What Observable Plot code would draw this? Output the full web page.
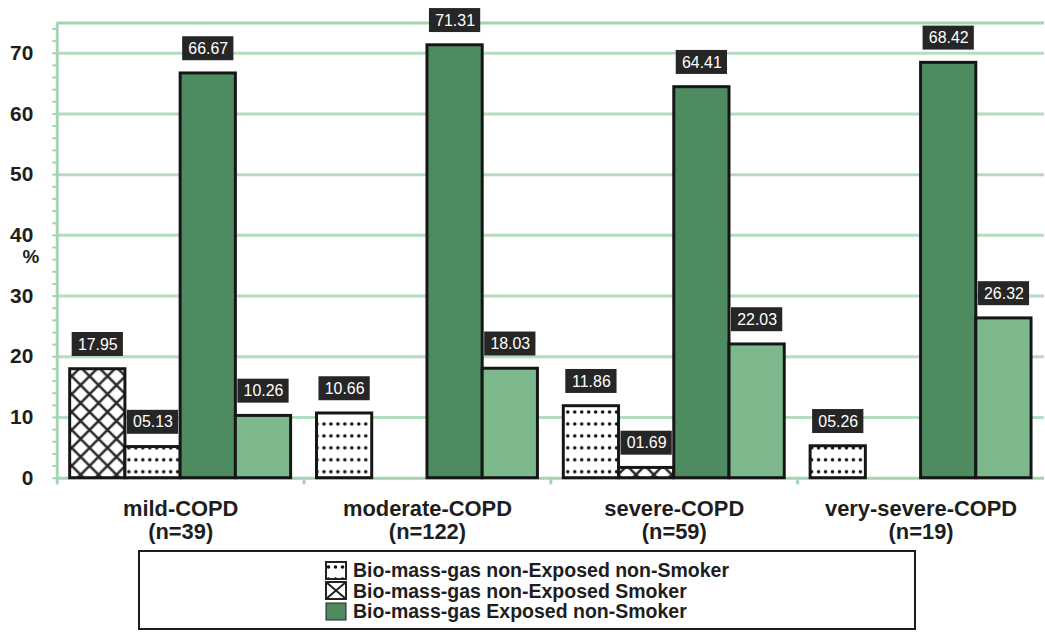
<!DOCTYPE html>
<html><head><meta charset="utf-8">
<script src="https://cdn.jsdelivr.net/npm/d3@7"></script>
<script src="https://cdn.jsdelivr.net/npm/@observablehq/plot@0.6"></script>
<style>
html,body{margin:0;padding:0;background:#fff;overflow:hidden;width:1045px;height:633px;}
#chart{position:absolute;left:0;top:0;}
#legend{position:absolute;left:138px;top:550px;width:778px;height:80px;border:2px solid #1e1e1e;box-sizing:border-box;font:bold 19.5px "Liberation Sans",Arial,sans-serif;color:#1e1e1e;}
.item{position:absolute;left:185px;height:20px;line-height:20px;display:flex;align-items:center;white-space:nowrap}
.item svg{margin-right:6px}
</style></head><body>
<div id="chart"></div><div id="legend"></div>
<script>
// ---- data ----
const categories = ["mild-COPD", "moderate-COPD", "severe-COPD", "very-severe-COPD"];
const sampleSizes = [39, 122, 59, 19];
const seriesNames = [
  "Bio-mass-gas non-Exposed non-Smoker",
  "Bio-mass-gas non-Exposed Smoker",
  "Bio-mass-gas Exposed non-Smoker",
  "Bio-mass-gas Exposed Smoker"
];
const nonExposedNonSmoker = [5.13, 10.66, 11.86, 5.26];
const nonExposedSmoker   = [17.95, 0, 1.69, 0];
const exposedNonSmoker   = [66.67, 71.31, 64.41, 68.42];
const exposedSmoker      = [10.26, 18.03, 22.03, 26.32];
// order of series within each group as printed in the source figure
const barOrder = [[1, 0, 2, 3], [0, 1, 2, 3], [0, 1, 2, 3], [0, 1, 2, 3]];
const yTicks = [0, 10, 20, 30, 40, 50, 60, 70];
const yMinorTicks = d3.range(0, 75, 2);

// ---- build table ----
const seriesValues = [nonExposedNonSmoker, nonExposedSmoker, exposedNonSmoker, exposedSmoker];
const rows = [];
categories.forEach((c, g) => barOrder[g].forEach((s, slot) => {
  const v = seriesValues[s][g];
  if (v > 0) rows.push({group: g, slot, series: s, value: v});
}));

const fills = ["url(#dots)", "url(#cross)", "#4f8b61", "#7db98c"];
const PAD = 13 / 248, BW = 55.5 / 248;
const bx1 = d => d.group + PAD + d.slot * BW;
const bx2 = d => d.group + PAD + (d.slot + 1) * BW;
const grid = "#b4dcbf", axisGreen = "#a6d3b2", ink = "#1e1e1e";
const font = '"Liberation Sans", Arial, sans-serif';

const chart = Plot.plot({
  width: 1050, height: 548,
  marginLeft: 57, marginRight: 1, marginTop: 22.5, marginBottom: 68,
  x: {domain: [0, 4], axis: null},
  y: {domain: [0, 75], axis: null},
  color: {type: "identity"},
  style: {fontFamily: font, background: "transparent", overflow: "visible"},
  marks: [
    Plot.ruleY(yTicks.filter(d => d > 0), {stroke: grid, strokeWidth: 3}),
    Plot.ruleY([75], {stroke: axisGreen, strokeWidth: 3}),
    Plot.ruleY(yMinorTicks, {x1: -0.018, x2: 0, stroke: axisGreen, strokeWidth: 2}),
    Plot.ruleX([0, 1, 2, 3], {y1: 0, y2: -1.1, stroke: axisGreen, strokeWidth: 3}),
    Plot.ruleX([0], {stroke: axisGreen, strokeWidth: 3}),
    Plot.ruleY([0], {stroke: axisGreen, strokeWidth: 3}),
    Plot.text(yTicks, {y: d => d, text: d => String(d), frameAnchor: "left", dx: -24, textAnchor: "end",
      fontSize: 21, fontWeight: "bold", fill: ink}),
    Plot.text(["%"], {frameAnchor: "left", dx: -35, dy: 6, fontSize: 19, fontWeight: "bold", fill: ink}),
    Plot.text(categories, {x: (d, i) => i + 0.5, frameAnchor: "bottom", dy: 22, lineAnchor: "top",
      text: (d, i) => `${d}\n(n=${sampleSizes[i]})`, fontSize: 22, fontWeight: "bold", lineHeight: 1.05, fill: ink}),
    Plot.rectY(rows, {x1: bx1, x2: bx2, y: "value", fill: d => fills[d.series], stroke: "#161616", strokeWidth: 3}),
    Plot.rect(rows, {x1: bx1, x2: bx2, y1: d => d.value + 2.1, y2: d => d.value + 6.05,
      insetLeft: 2, insetRight: 2, fill: "#262626"}),
    Plot.text(rows, {x: d => (bx1(d) + bx2(d)) / 2, y: d => d.value + 4.07, text: d => d3.format("05.2f")(d.value),
      fill: "white", fontSize: 16})
  ]
});

d3.select(chart).insert("defs", ":first-child").html(`
  <pattern id="dots" width="7" height="12" patternUnits="userSpaceOnUse">
    <rect width="7" height="12" fill="#fff"/><circle cx="3.5" cy="6" r="1.8" fill="#111"/>
  </pattern>
  <pattern id="cross" width="18" height="18" patternUnits="userSpaceOnUse">
    <rect width="18" height="18" fill="#fff"/>
    <path d="M-2,-2L20,20M20,-2L-2,20" stroke="#2a2a2a" stroke-width="2.6"/>
  </pattern>`);
document.getElementById("chart").appendChild(chart);

// ---- legend (first three entries visible in the source) ----
const legend = document.getElementById("legend");
const swatches = [
  `<svg width="22" height="19"><rect x="1" y="1" width="20" height="17" fill="url(#dots)" stroke="#222" stroke-width="2"/></svg>`,
  `<svg width="22" height="19"><rect x="1" y="1" width="20" height="17" fill="#fff" stroke="#222" stroke-width="2"/><path d="M1,1L21,18M21,1L1,18" stroke="#222" stroke-width="2"/></svg>`,
  `<svg width="22" height="19"><rect x="1" y="1" width="20" height="17" fill="${fills[2]}" stroke="#222" stroke-width="1"/></svg>`
];
seriesNames.slice(0, 3).forEach((name, i) => {
  const div = document.createElement("div");
  div.className = "item";
  div.style.top = (8 + i * 20.5) + "px";
  div.innerHTML = swatches[i] + `<span>${name}</span>`;
  legend.appendChild(div);
});
</script>
</body></html>
